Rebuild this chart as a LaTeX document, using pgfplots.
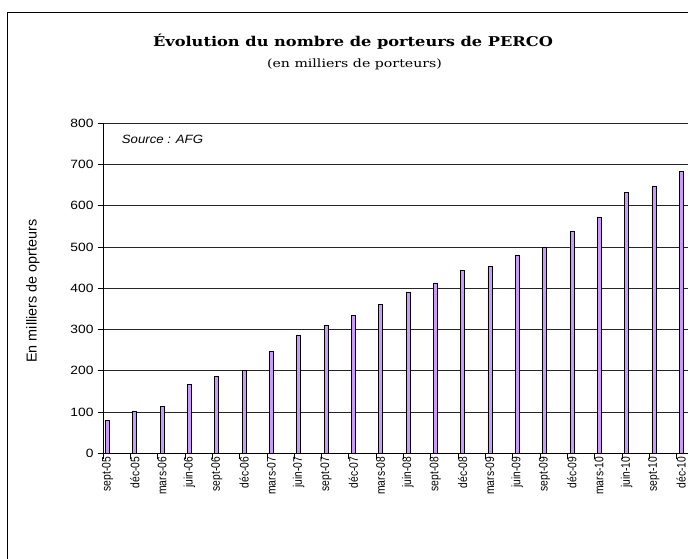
\documentclass[border=0pt]{standalone}
\usepackage{graphicx}
\usepackage{pgfplots}
\pgfplotsset{compat=1.18}
\usepackage{pgfplotstable}
\usepackage{fontspec}
\setmainfont{Liberation Sans}
\newfontfamily\titlefont{DejaVu Serif}
\newsavebox\tb
\newcommand\fitw[2]{\sbox\tb{#2}\scalebox{\fpeval{#1/\the\wd\tb}}[1]{\usebox\tb}}
\definecolor{barfill}{RGB}{204,153,255}
\pgfplotstableread{
x val
0 79
1 101
2 114
3 166
4 187
5 200
6 246
7 286
8 310
9 335
10 361
11 391
12 413
13 443
14 453
15 481
16 499
17 539
18 573
19 632
20 647
21 684
}\perco
\begin{document}
\begin{tikzpicture}[x=1pt,y=1pt]
\useasboundingbox (0,0) rectangle (688,558);
\begin{scope}
\clip (0,0) rectangle (688,558);
\draw[line width=1pt] (7.3,-20) -- (7.3,545.7) -- (720,545.7);
\node[font=\titlefont\bfseries\fontsize{13.5}{15}\selectfont] at (353,516) {\fitw{400}{Évolution du nombre de porteurs de PERCO}};
\node[font=\titlefont\fontsize{11.5}{13}\selectfont] at (354.5,494) {\fitw{175}{(en milliers de porteurs)}};
\node[font=\fontsize{14.4}{16}\selectfont, rotate=90] at (33,267) {En milliers de oprteurs};
\begin{axis}[
  at={(103pt,104.7pt)}, anchor=south west,
  width=601pt, height=330pt, scale only axis,
  xmin=-0.165, xmax=21.835, ymin=0, ymax=800,
  axis lines*=left,
  axis line style={black, line width=0.8pt},
  ytick={0,100,...,800},
  ymajorgrids,
  grid style={black!85, line width=0.7pt},
  xtick={-0.165,0.835,1.835,2.835,3.835,4.835,5.835,6.835,7.835,8.835,9.835,10.835,11.835,12.835,13.835,14.835,15.835,16.835,17.835,18.835,19.835,20.835},
  xticklabels={},
  extra x ticks={0,1,...,21},
  extra x tick labels={sept-05,déc-05,mars-06,juin-06,sept-06,déc-06,mars-07,juin-07,sept-07,déc-07,mars-08,juin-08,sept-08,déc-08,mars-09,juin-09,sept-09,déc-09,mars-10,juin-10,sept-10,déc-10},
  extra x tick style={major tick length=0pt, grid=none},
  tick align=outside,
  major tick length=5.5pt,
  tick style={black, line width=0.8pt},
  /pgf/number format/assume math mode=true,
  yticklabel style={font=\fontsize{12}{13}\selectfont, xscale=1.15},
  xticklabel style={font=\fontsize{10.3}{12}\selectfont, rotate=90, yscale=1.2, anchor=east},
  ybar, bar width=4pt,
]
\addplot[draw=black, line width=0.7pt, fill=barfill] table[x=x, y=val] {\perco};
\end{axis}
\node[font=\itshape\fontsize{12}{14}\selectfont, anchor=west, xscale=1.1] at (118,419) {Source : AFG};
\end{scope}
\end{tikzpicture}
\end{document}
